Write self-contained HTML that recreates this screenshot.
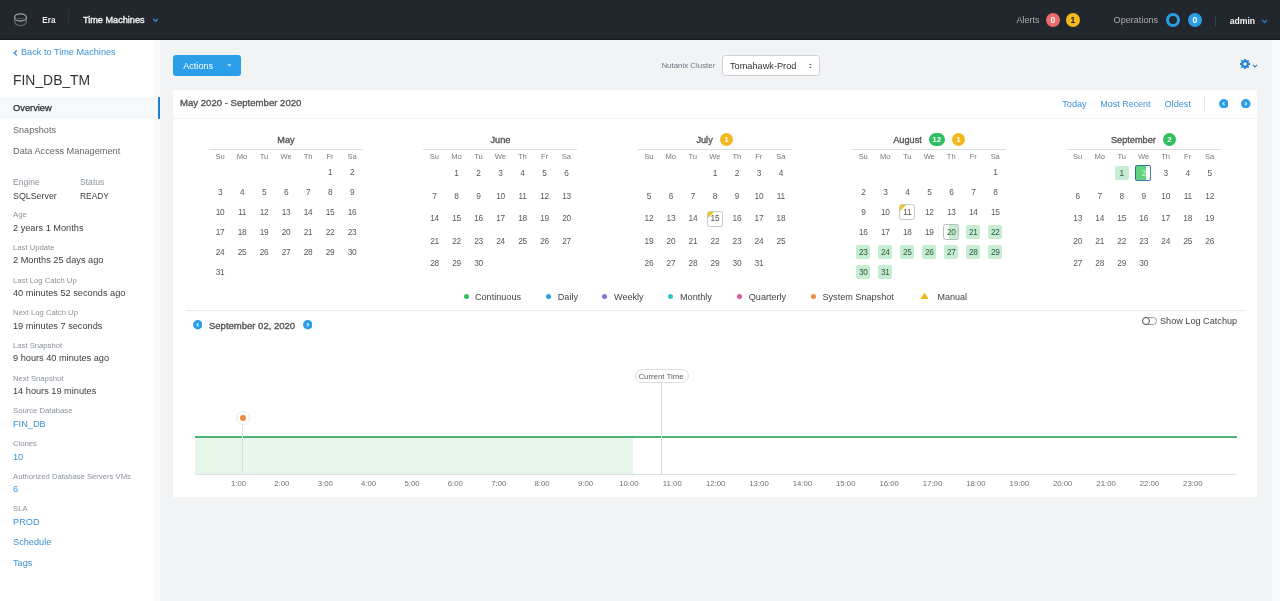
<!DOCTYPE html>
<html><head><meta charset="utf-8"><style>
*{margin:0;padding:0;box-sizing:content-box}
html,body{width:1280px;height:601px;overflow:hidden;background:#f2f3f5}
body{position:relative;font-family:"Liberation Sans",sans-serif}
#w{position:absolute;left:0;top:0;width:1280px;height:601px;will-change:transform}
.t{position:absolute;line-height:1;white-space:nowrap}
.r{position:absolute}

.badge{border-radius:7px;font-size:8px;font-weight:700;text-align:center;line-height:13.4px}
.circ{border-radius:50%;font-size:8.6px;font-weight:700;text-align:center;line-height:14px}
</style></head><body><div id="w">
<div class="r" style="left:0px;top:0px;width:1280px;height:601px;background:#f2f3f5"></div>
<div class="r" style="left:1271px;top:40px;width:9px;height:561px;background:#f8f9fa;border-left:1px solid #eef0f2"></div>
<div class="r" style="left:0px;top:40px;width:160px;height:561px;background:#fff"></div>
<div class="r" style="left:153px;top:40px;width:7px;height:561px;background:#f9fafa"></div>
<div class="r" style="left:0px;top:0px;width:1280px;height:39px;background:#22262d"></div>
<div class="r" style="left:0px;top:39px;width:1280px;height:1px;background:#16191d"></div>
<svg class="r" style="left:12px;top:10px" width="18" height="18" viewBox="12 10 18 18"><path d="M14.6 19.5 V21.3 A5.9 4.4 0 0 0 26.4 21.3 V19.5" fill="none" stroke="#62676f" stroke-width="1.3"/><ellipse cx="20.5" cy="17.4" rx="5.9" ry="3.6" fill="#22262d" stroke="#a0a5ad" stroke-width="1.3"/><path d="M16.8 19.2 A4.2 1.6 0 0 1 24.2 19.2" fill="none" stroke="#5a5f67" stroke-width="1"/></svg>
<div class="t" style="left:42.3px;top:16.56px;font-size:8.2px;color:#f0f0f0;font-weight:700;">Era</div>
<div class="r" style="left:68px;top:9px;width:1px;height:15px;background:#2e333a"></div>
<div class="t" style="left:83px;top:15.95px;font-size:9.15px;color:#ececec;font-weight:400;-webkit-text-stroke:0.4px #ececec;">Time Machines</div>
<svg class="r" style="left:151.8px;top:17.8px" width="7" height="5" viewBox="0 0 7 5"><path d="M1.2 1 L3.5 3.3 L5.8 1" fill="none" stroke="#2f8fd8" stroke-width="1.3"/></svg>
<div class="t" style="left:1016.4px;top:15.88px;font-size:9.0px;color:#a9adb3;font-weight:400;">Alerts</div>
<div class="r circ" style="left:1046px;top:13px;width:14px;height:14px;background:#ee6b6b;color:#fff">0</div>
<div class="r circ" style="left:1066px;top:13px;width:14px;height:14px;background:#f3b81c;color:#222">1</div>
<div class="t" style="left:1113.6px;top:16.00px;font-size:9.1px;color:#a9adb3;font-weight:400;">Operations</div>
<div class="r" style="left:1166px;top:12.5px;width:8px;height:8px;border:3.5px solid #2a9ee8;border-radius:50%"></div>
<div class="r circ" style="left:1188px;top:13px;width:14px;height:14px;background:#2a9ee8;color:#fff">0</div>
<div class="r" style="left:1215px;top:16px;width:1px;height:10px;background:#3a3f47"></div>
<div class="t" style="left:1229.8px;top:16.62px;font-size:8.6px;color:#f2f2f2;font-weight:700;">admin</div>
<svg class="r" style="left:1261px;top:19px" width="7" height="5" viewBox="0 0 7 5"><path d="M1 1 L3.5 3.5 L6 1" fill="none" stroke="#2a7cc0" stroke-width="1.4"/></svg>
<div class="r" style="left:0px;top:97px;width:158px;height:22px;background:#f6f9fb"></div>
<div class="r" style="left:158px;top:97px;width:2px;height:22px;background:#1f82d0"></div>
<svg class="r" style="left:13px;top:49.5px" width="5" height="6" viewBox="0 0 5 6"><path d="M3.8 0.6 L1.2 3 L3.8 5.4" fill="none" stroke="#3b8fcf" stroke-width="1.3"/></svg>
<div class="t" style="left:21px;top:48.24px;font-size:9.17px;color:#3b92d3;font-weight:400;">Back to Time Machines</div>
<div class="t" style="left:13px;top:73.53px;font-size:13.9px;color:#333;font-weight:400;">FIN_DB_TM</div>
<div class="t" style="left:13px;top:104.03px;font-size:9.3px;color:#2a2a2a;font-weight:400;-webkit-text-stroke:0.25px #2a2a2a;">Overview</div>
<div class="t" style="left:13px;top:125.80px;font-size:9.1px;color:#666;font-weight:400;">Snapshots</div>
<div class="t" style="left:13px;top:147.11px;font-size:9.2px;color:#666;font-weight:400;">Data Access Management</div>
<div class="t" style="left:13px;top:178.32px;font-size:8.6px;color:#8a929b;font-weight:400;">Engine</div>
<div class="t" style="left:80px;top:178.32px;font-size:8.6px;color:#8a929b;font-weight:400;">Status</div>
<div class="t" style="left:13px;top:191.71px;font-size:8.85px;color:#3c3c3c;font-weight:400;">SQLServer</div>
<div class="t" style="left:80px;top:192.09px;font-size:8.4px;color:#3c3c3c;font-weight:400;">READY</div>
<div class="t" style="left:13px;top:211.28px;font-size:7.7px;color:#8a929b;font-weight:400;">Age</div>
<div class="t" style="left:13px;top:223.81px;font-size:9.2px;color:#3c3c3c;font-weight:400;">2 years 1 Months</div>
<div class="t" style="left:13px;top:243.95px;font-size:7.7px;color:#8a929b;font-weight:400;">Last Update</div>
<div class="t" style="left:13px;top:256.48px;font-size:9.2px;color:#3c3c3c;font-weight:400;">2 Months 25 days ago</div>
<div class="t" style="left:13px;top:276.62px;font-size:7.7px;color:#8a929b;font-weight:400;">Last Log Catch Up</div>
<div class="t" style="left:13px;top:289.15px;font-size:9.2px;color:#3c3c3c;font-weight:400;">40 minutes 52 seconds ago</div>
<div class="t" style="left:13px;top:309.29px;font-size:7.7px;color:#8a929b;font-weight:400;">Next Log Catch Up</div>
<div class="t" style="left:13px;top:321.82px;font-size:9.2px;color:#3c3c3c;font-weight:400;">19 minutes 7 seconds</div>
<div class="t" style="left:13px;top:341.96px;font-size:7.7px;color:#8a929b;font-weight:400;">Last Snapshot</div>
<div class="t" style="left:13px;top:354.49px;font-size:9.2px;color:#3c3c3c;font-weight:400;">9 hours 40 minutes ago</div>
<div class="t" style="left:13px;top:374.63px;font-size:7.7px;color:#8a929b;font-weight:400;">Next Snapshot</div>
<div class="t" style="left:13px;top:387.16px;font-size:9.2px;color:#3c3c3c;font-weight:400;">14 hours 19 minutes</div>
<div class="t" style="left:13px;top:407.30px;font-size:7.7px;color:#8a929b;font-weight:400;">Source Database</div>
<div class="t" style="left:13px;top:419.83px;font-size:9.2px;color:#3b92d3;font-weight:400;">FIN_DB</div>
<div class="t" style="left:13px;top:439.97px;font-size:7.7px;color:#8a929b;font-weight:400;">Clones</div>
<div class="t" style="left:13px;top:452.50px;font-size:9.2px;color:#3b92d3;font-weight:400;">10</div>
<div class="t" style="left:13px;top:472.64px;font-size:7.7px;color:#8a929b;font-weight:400;">Authorized Database Servers VMs</div>
<div class="t" style="left:13px;top:485.17px;font-size:9.2px;color:#3b92d3;font-weight:400;">6</div>
<div class="t" style="left:13px;top:505.31px;font-size:7.7px;color:#8a929b;font-weight:400;">SLA</div>
<div class="t" style="left:13px;top:517.84px;font-size:9.2px;color:#3b92d3;font-weight:400;">PROD</div>
<div class="t" style="left:13px;top:538.41px;font-size:9.2px;color:#3b92d3;font-weight:400;">Schedule</div>
<div class="t" style="left:13px;top:559.21px;font-size:9.2px;color:#3b92d3;font-weight:400;">Tags</div>
<div class="r" style="left:173px;top:55px;width:68px;height:21px;background:#2a9ee8;border-radius:3px"></div>
<div class="t" style="left:183.2px;top:61.65px;font-size:9.15px;color:#fff;font-weight:400;">Actions</div>
<svg class="r" style="left:226.8px;top:64px" width="5" height="3" viewBox="0 0 5 3"><path d="M0.2 0.2 L4.4 0.2 L2.3 2.4Z" fill="#d2f2ff"/></svg>
<div class="t" style="left:661.4px;top:62.11px;font-size:7.9px;color:#6b7580;font-weight:400;">Nutanix Cluster</div>
<div class="r" style="left:722px;top:55px;width:96px;height:19px;background:#fff;border:1px solid #cfd3d7;border-radius:3px"></div>
<div class="t" style="left:730px;top:61.71px;font-size:9.2px;color:#333;font-weight:400;">Tomahawk-Prod</div>
<svg class="r" style="left:809px;top:62px" width="4" height="8" viewBox="0 0 4 8"><ellipse cx="1.3" cy="2.5" rx="1" ry="0.7" fill="#555"/><ellipse cx="1.3" cy="5.4" rx="1" ry="0.7" fill="#555"/></svg>
<svg class="r" style="left:1239.3px;top:57.8px" width="12" height="12" viewBox="-6 -6 12 12"><g fill="#2386d2"><circle r="3.5"/><path d="M-0.9 -5.1 L0.9 -5.1 L1.3 -2.8 L-1.3 -2.8Z" transform="rotate(0)"/><path d="M-0.9 -5.1 L0.9 -5.1 L1.3 -2.8 L-1.3 -2.8Z" transform="rotate(45)"/><path d="M-0.9 -5.1 L0.9 -5.1 L1.3 -2.8 L-1.3 -2.8Z" transform="rotate(90)"/><path d="M-0.9 -5.1 L0.9 -5.1 L1.3 -2.8 L-1.3 -2.8Z" transform="rotate(135)"/><path d="M-0.9 -5.1 L0.9 -5.1 L1.3 -2.8 L-1.3 -2.8Z" transform="rotate(180)"/><path d="M-0.9 -5.1 L0.9 -5.1 L1.3 -2.8 L-1.3 -2.8Z" transform="rotate(225)"/><path d="M-0.9 -5.1 L0.9 -5.1 L1.3 -2.8 L-1.3 -2.8Z" transform="rotate(270)"/><path d="M-0.9 -5.1 L0.9 -5.1 L1.3 -2.8 L-1.3 -2.8Z" transform="rotate(315)"/></g><circle r="1.7" fill="#f2f3f5"/></svg>
<svg class="r" style="left:1252px;top:64px" width="6" height="4" viewBox="0 0 6 4"><path d="M0.9 0.9 L3 2.9 L5.1 0.9" fill="none" stroke="#2386d2" stroke-width="1.2"/></svg>
<div class="r" style="left:173px;top:90px;width:1084px;height:407px;background:#fff"></div>
<div class="t" style="left:180px;top:98.49px;font-size:9.58px;color:#555;font-weight:400;-webkit-text-stroke:0.35px #555;">May 2020 - September 2020</div>
<div class="t" style="left:1062.2px;top:100.01px;font-size:9.2px;color:#3b92d3;font-weight:400;">Today</div>
<div class="t" style="left:1100.3px;top:100.22px;font-size:8.96px;color:#3b92d3;font-weight:400;">Most Recent</div>
<div class="t" style="left:1164.5px;top:100.04px;font-size:9.17px;color:#3b92d3;font-weight:400;">Oldest</div>
<div class="r" style="left:1204px;top:96px;width:1px;height:15px;background:#e3e5e8"></div>
<svg class="r" style="left:1218.65px;top:98.75px" width="9.5" height="9.5" viewBox="0 0 9.5 9.5"><circle cx="4.75" cy="4.75" r="4.75" fill="#2a9ee8"/><path d="M5.5 3.1 L4.0 4.8 L5.5 6.3" fill="none" stroke="#c4ecff" stroke-width="1.3"/></svg>
<svg class="r" style="left:1241.15px;top:98.75px" width="9.5" height="9.5" viewBox="0 0 9.5 9.5"><circle cx="4.75" cy="4.75" r="4.75" fill="#2a9ee8"/><path d="M4.0 3.1 L5.5 4.8 L4.0 6.3" fill="none" stroke="#c4ecff" stroke-width="1.3"/></svg>
<div class="r" style="left:173px;top:118px;width:1084px;height:1px;background:#f1f2f4"></div>
<div class="t" style="left:277.3103125px;top:135.51px;font-size:9.2px;color:#555;font-weight:400;-webkit-text-stroke:0.35px #555;">May</div>
<div class="r" style="left:209.0px;top:149px;width:154px;height:1px;background:#dcdddf"></div>
<div class="t" style="left:209.00px;width:22px;text-align:center;top:152.87px;font-size:7.6px;color:#777;font-weight:400;letter-spacing:-0.1px;">Su</div>
<div class="t" style="left:231.00px;width:22px;text-align:center;top:152.87px;font-size:7.6px;color:#777;font-weight:400;letter-spacing:-0.1px;">Mo</div>
<div class="t" style="left:253.00px;width:22px;text-align:center;top:152.87px;font-size:7.6px;color:#777;font-weight:400;letter-spacing:-0.1px;">Tu</div>
<div class="t" style="left:275.00px;width:22px;text-align:center;top:152.87px;font-size:7.6px;color:#777;font-weight:400;letter-spacing:-0.1px;">We</div>
<div class="t" style="left:297.00px;width:22px;text-align:center;top:152.87px;font-size:7.6px;color:#777;font-weight:400;letter-spacing:-0.1px;">Th</div>
<div class="t" style="left:319.00px;width:22px;text-align:center;top:152.87px;font-size:7.6px;color:#777;font-weight:400;letter-spacing:-0.1px;">Fr</div>
<div class="t" style="left:341.00px;width:22px;text-align:center;top:152.87px;font-size:7.6px;color:#777;font-weight:400;letter-spacing:-0.1px;">Sa</div>
<div class="t" style="left:319.12px;width:22px;text-align:center;top:167.67px;font-size:8.3px;color:#585858;font-weight:400;letter-spacing:-0.25px;">1</div>
<div class="t" style="left:341.12px;width:22px;text-align:center;top:167.67px;font-size:8.3px;color:#585858;font-weight:400;letter-spacing:-0.25px;">2</div>
<div class="t" style="left:209.12px;width:22px;text-align:center;top:187.67px;font-size:8.3px;color:#585858;font-weight:400;letter-spacing:-0.25px;">3</div>
<div class="t" style="left:231.12px;width:22px;text-align:center;top:187.67px;font-size:8.3px;color:#585858;font-weight:400;letter-spacing:-0.25px;">4</div>
<div class="t" style="left:253.12px;width:22px;text-align:center;top:187.67px;font-size:8.3px;color:#585858;font-weight:400;letter-spacing:-0.25px;">5</div>
<div class="t" style="left:275.12px;width:22px;text-align:center;top:187.67px;font-size:8.3px;color:#585858;font-weight:400;letter-spacing:-0.25px;">6</div>
<div class="t" style="left:297.12px;width:22px;text-align:center;top:187.67px;font-size:8.3px;color:#585858;font-weight:400;letter-spacing:-0.25px;">7</div>
<div class="t" style="left:319.12px;width:22px;text-align:center;top:187.67px;font-size:8.3px;color:#585858;font-weight:400;letter-spacing:-0.25px;">8</div>
<div class="t" style="left:341.12px;width:22px;text-align:center;top:187.67px;font-size:8.3px;color:#585858;font-weight:400;letter-spacing:-0.25px;">9</div>
<div class="t" style="left:209.12px;width:22px;text-align:center;top:207.67px;font-size:8.3px;color:#585858;font-weight:400;letter-spacing:-0.25px;">10</div>
<div class="t" style="left:231.12px;width:22px;text-align:center;top:207.67px;font-size:8.3px;color:#585858;font-weight:400;letter-spacing:-0.25px;">11</div>
<div class="t" style="left:253.12px;width:22px;text-align:center;top:207.67px;font-size:8.3px;color:#585858;font-weight:400;letter-spacing:-0.25px;">12</div>
<div class="t" style="left:275.12px;width:22px;text-align:center;top:207.67px;font-size:8.3px;color:#585858;font-weight:400;letter-spacing:-0.25px;">13</div>
<div class="t" style="left:297.12px;width:22px;text-align:center;top:207.67px;font-size:8.3px;color:#585858;font-weight:400;letter-spacing:-0.25px;">14</div>
<div class="t" style="left:319.12px;width:22px;text-align:center;top:207.67px;font-size:8.3px;color:#585858;font-weight:400;letter-spacing:-0.25px;">15</div>
<div class="t" style="left:341.12px;width:22px;text-align:center;top:207.67px;font-size:8.3px;color:#585858;font-weight:400;letter-spacing:-0.25px;">16</div>
<div class="t" style="left:209.12px;width:22px;text-align:center;top:227.67px;font-size:8.3px;color:#585858;font-weight:400;letter-spacing:-0.25px;">17</div>
<div class="t" style="left:231.12px;width:22px;text-align:center;top:227.67px;font-size:8.3px;color:#585858;font-weight:400;letter-spacing:-0.25px;">18</div>
<div class="t" style="left:253.12px;width:22px;text-align:center;top:227.67px;font-size:8.3px;color:#585858;font-weight:400;letter-spacing:-0.25px;">19</div>
<div class="t" style="left:275.12px;width:22px;text-align:center;top:227.67px;font-size:8.3px;color:#585858;font-weight:400;letter-spacing:-0.25px;">20</div>
<div class="t" style="left:297.12px;width:22px;text-align:center;top:227.67px;font-size:8.3px;color:#585858;font-weight:400;letter-spacing:-0.25px;">21</div>
<div class="t" style="left:319.12px;width:22px;text-align:center;top:227.67px;font-size:8.3px;color:#585858;font-weight:400;letter-spacing:-0.25px;">22</div>
<div class="t" style="left:341.12px;width:22px;text-align:center;top:227.67px;font-size:8.3px;color:#585858;font-weight:400;letter-spacing:-0.25px;">23</div>
<div class="t" style="left:209.12px;width:22px;text-align:center;top:247.67px;font-size:8.3px;color:#585858;font-weight:400;letter-spacing:-0.25px;">24</div>
<div class="t" style="left:231.12px;width:22px;text-align:center;top:247.67px;font-size:8.3px;color:#585858;font-weight:400;letter-spacing:-0.25px;">25</div>
<div class="t" style="left:253.12px;width:22px;text-align:center;top:247.67px;font-size:8.3px;color:#585858;font-weight:400;letter-spacing:-0.25px;">26</div>
<div class="t" style="left:275.12px;width:22px;text-align:center;top:247.67px;font-size:8.3px;color:#585858;font-weight:400;letter-spacing:-0.25px;">27</div>
<div class="t" style="left:297.12px;width:22px;text-align:center;top:247.67px;font-size:8.3px;color:#585858;font-weight:400;letter-spacing:-0.25px;">28</div>
<div class="t" style="left:319.12px;width:22px;text-align:center;top:247.67px;font-size:8.3px;color:#585858;font-weight:400;letter-spacing:-0.25px;">29</div>
<div class="t" style="left:341.12px;width:22px;text-align:center;top:247.67px;font-size:8.3px;color:#585858;font-weight:400;letter-spacing:-0.25px;">30</div>
<div class="t" style="left:209.12px;width:22px;text-align:center;top:267.67px;font-size:8.3px;color:#585858;font-weight:400;letter-spacing:-0.25px;">31</div>
<div class="t" style="left:490.42590624999997px;top:135.51px;font-size:9.2px;color:#555;font-weight:400;-webkit-text-stroke:0.35px #555;">June</div>
<div class="r" style="left:423.4px;top:149px;width:154px;height:1px;background:#dcdddf"></div>
<div class="t" style="left:423.40px;width:22px;text-align:center;top:152.87px;font-size:7.6px;color:#777;font-weight:400;letter-spacing:-0.1px;">Su</div>
<div class="t" style="left:445.40px;width:22px;text-align:center;top:152.87px;font-size:7.6px;color:#777;font-weight:400;letter-spacing:-0.1px;">Mo</div>
<div class="t" style="left:467.40px;width:22px;text-align:center;top:152.87px;font-size:7.6px;color:#777;font-weight:400;letter-spacing:-0.1px;">Tu</div>
<div class="t" style="left:489.40px;width:22px;text-align:center;top:152.87px;font-size:7.6px;color:#777;font-weight:400;letter-spacing:-0.1px;">We</div>
<div class="t" style="left:511.40px;width:22px;text-align:center;top:152.87px;font-size:7.6px;color:#777;font-weight:400;letter-spacing:-0.1px;">Th</div>
<div class="t" style="left:533.40px;width:22px;text-align:center;top:152.87px;font-size:7.6px;color:#777;font-weight:400;letter-spacing:-0.1px;">Fr</div>
<div class="t" style="left:555.40px;width:22px;text-align:center;top:152.87px;font-size:7.6px;color:#777;font-weight:400;letter-spacing:-0.1px;">Sa</div>
<div class="t" style="left:445.52px;width:22px;text-align:center;top:168.97px;font-size:8.3px;color:#585858;font-weight:400;letter-spacing:-0.25px;">1</div>
<div class="t" style="left:467.52px;width:22px;text-align:center;top:168.97px;font-size:8.3px;color:#585858;font-weight:400;letter-spacing:-0.25px;">2</div>
<div class="t" style="left:489.52px;width:22px;text-align:center;top:168.97px;font-size:8.3px;color:#585858;font-weight:400;letter-spacing:-0.25px;">3</div>
<div class="t" style="left:511.52px;width:22px;text-align:center;top:168.97px;font-size:8.3px;color:#585858;font-weight:400;letter-spacing:-0.25px;">4</div>
<div class="t" style="left:533.52px;width:22px;text-align:center;top:168.97px;font-size:8.3px;color:#585858;font-weight:400;letter-spacing:-0.25px;">5</div>
<div class="t" style="left:555.52px;width:22px;text-align:center;top:168.97px;font-size:8.3px;color:#585858;font-weight:400;letter-spacing:-0.25px;">6</div>
<div class="t" style="left:423.52px;width:22px;text-align:center;top:191.60px;font-size:8.3px;color:#585858;font-weight:400;letter-spacing:-0.25px;">7</div>
<div class="t" style="left:445.52px;width:22px;text-align:center;top:191.60px;font-size:8.3px;color:#585858;font-weight:400;letter-spacing:-0.25px;">8</div>
<div class="t" style="left:467.52px;width:22px;text-align:center;top:191.60px;font-size:8.3px;color:#585858;font-weight:400;letter-spacing:-0.25px;">9</div>
<div class="t" style="left:489.52px;width:22px;text-align:center;top:191.60px;font-size:8.3px;color:#585858;font-weight:400;letter-spacing:-0.25px;">10</div>
<div class="t" style="left:511.52px;width:22px;text-align:center;top:191.60px;font-size:8.3px;color:#585858;font-weight:400;letter-spacing:-0.25px;">11</div>
<div class="t" style="left:533.52px;width:22px;text-align:center;top:191.60px;font-size:8.3px;color:#585858;font-weight:400;letter-spacing:-0.25px;">12</div>
<div class="t" style="left:555.52px;width:22px;text-align:center;top:191.60px;font-size:8.3px;color:#585858;font-weight:400;letter-spacing:-0.25px;">13</div>
<div class="t" style="left:423.52px;width:22px;text-align:center;top:214.23px;font-size:8.3px;color:#585858;font-weight:400;letter-spacing:-0.25px;">14</div>
<div class="t" style="left:445.52px;width:22px;text-align:center;top:214.23px;font-size:8.3px;color:#585858;font-weight:400;letter-spacing:-0.25px;">15</div>
<div class="t" style="left:467.52px;width:22px;text-align:center;top:214.23px;font-size:8.3px;color:#585858;font-weight:400;letter-spacing:-0.25px;">16</div>
<div class="t" style="left:489.52px;width:22px;text-align:center;top:214.23px;font-size:8.3px;color:#585858;font-weight:400;letter-spacing:-0.25px;">17</div>
<div class="t" style="left:511.52px;width:22px;text-align:center;top:214.23px;font-size:8.3px;color:#585858;font-weight:400;letter-spacing:-0.25px;">18</div>
<div class="t" style="left:533.52px;width:22px;text-align:center;top:214.23px;font-size:8.3px;color:#585858;font-weight:400;letter-spacing:-0.25px;">19</div>
<div class="t" style="left:555.52px;width:22px;text-align:center;top:214.23px;font-size:8.3px;color:#585858;font-weight:400;letter-spacing:-0.25px;">20</div>
<div class="t" style="left:423.52px;width:22px;text-align:center;top:236.86px;font-size:8.3px;color:#585858;font-weight:400;letter-spacing:-0.25px;">21</div>
<div class="t" style="left:445.52px;width:22px;text-align:center;top:236.86px;font-size:8.3px;color:#585858;font-weight:400;letter-spacing:-0.25px;">22</div>
<div class="t" style="left:467.52px;width:22px;text-align:center;top:236.86px;font-size:8.3px;color:#585858;font-weight:400;letter-spacing:-0.25px;">23</div>
<div class="t" style="left:489.52px;width:22px;text-align:center;top:236.86px;font-size:8.3px;color:#585858;font-weight:400;letter-spacing:-0.25px;">24</div>
<div class="t" style="left:511.52px;width:22px;text-align:center;top:236.86px;font-size:8.3px;color:#585858;font-weight:400;letter-spacing:-0.25px;">25</div>
<div class="t" style="left:533.52px;width:22px;text-align:center;top:236.86px;font-size:8.3px;color:#585858;font-weight:400;letter-spacing:-0.25px;">26</div>
<div class="t" style="left:555.52px;width:22px;text-align:center;top:236.86px;font-size:8.3px;color:#585858;font-weight:400;letter-spacing:-0.25px;">27</div>
<div class="t" style="left:423.52px;width:22px;text-align:center;top:259.49px;font-size:8.3px;color:#585858;font-weight:400;letter-spacing:-0.25px;">28</div>
<div class="t" style="left:445.52px;width:22px;text-align:center;top:259.49px;font-size:8.3px;color:#585858;font-weight:400;letter-spacing:-0.25px;">29</div>
<div class="t" style="left:467.52px;width:22px;text-align:center;top:259.49px;font-size:8.3px;color:#585858;font-weight:400;letter-spacing:-0.25px;">30</div>
<div class="t" style="left:696.4199062499999px;top:135.51px;font-size:9.2px;color:#555;font-weight:400;-webkit-text-stroke:0.35px #555;">July</div>
<div class="r badge" style="left:719.78px;top:133px;width:13.4px;height:13.4px;background:#f3b81c;color:#fff">1</div>
<div class="r" style="left:637.8px;top:149px;width:154px;height:1px;background:#dcdddf"></div>
<div class="t" style="left:637.80px;width:22px;text-align:center;top:152.87px;font-size:7.6px;color:#777;font-weight:400;letter-spacing:-0.1px;">Su</div>
<div class="t" style="left:659.80px;width:22px;text-align:center;top:152.87px;font-size:7.6px;color:#777;font-weight:400;letter-spacing:-0.1px;">Mo</div>
<div class="t" style="left:681.80px;width:22px;text-align:center;top:152.87px;font-size:7.6px;color:#777;font-weight:400;letter-spacing:-0.1px;">Tu</div>
<div class="t" style="left:703.80px;width:22px;text-align:center;top:152.87px;font-size:7.6px;color:#777;font-weight:400;letter-spacing:-0.1px;">We</div>
<div class="t" style="left:725.80px;width:22px;text-align:center;top:152.87px;font-size:7.6px;color:#777;font-weight:400;letter-spacing:-0.1px;">Th</div>
<div class="t" style="left:747.80px;width:22px;text-align:center;top:152.87px;font-size:7.6px;color:#777;font-weight:400;letter-spacing:-0.1px;">Fr</div>
<div class="t" style="left:769.80px;width:22px;text-align:center;top:152.87px;font-size:7.6px;color:#777;font-weight:400;letter-spacing:-0.1px;">Sa</div>
<div class="t" style="left:703.92px;width:22px;text-align:center;top:168.97px;font-size:8.3px;color:#585858;font-weight:400;letter-spacing:-0.25px;">1</div>
<div class="t" style="left:725.92px;width:22px;text-align:center;top:168.97px;font-size:8.3px;color:#585858;font-weight:400;letter-spacing:-0.25px;">2</div>
<div class="t" style="left:747.92px;width:22px;text-align:center;top:168.97px;font-size:8.3px;color:#585858;font-weight:400;letter-spacing:-0.25px;">3</div>
<div class="t" style="left:769.92px;width:22px;text-align:center;top:168.97px;font-size:8.3px;color:#585858;font-weight:400;letter-spacing:-0.25px;">4</div>
<div class="t" style="left:637.92px;width:22px;text-align:center;top:191.60px;font-size:8.3px;color:#585858;font-weight:400;letter-spacing:-0.25px;">5</div>
<div class="t" style="left:659.92px;width:22px;text-align:center;top:191.60px;font-size:8.3px;color:#585858;font-weight:400;letter-spacing:-0.25px;">6</div>
<div class="t" style="left:681.92px;width:22px;text-align:center;top:191.60px;font-size:8.3px;color:#585858;font-weight:400;letter-spacing:-0.25px;">7</div>
<div class="t" style="left:703.92px;width:22px;text-align:center;top:191.60px;font-size:8.3px;color:#585858;font-weight:400;letter-spacing:-0.25px;">8</div>
<div class="t" style="left:725.92px;width:22px;text-align:center;top:191.60px;font-size:8.3px;color:#585858;font-weight:400;letter-spacing:-0.25px;">9</div>
<div class="t" style="left:747.92px;width:22px;text-align:center;top:191.60px;font-size:8.3px;color:#585858;font-weight:400;letter-spacing:-0.25px;">10</div>
<div class="t" style="left:769.92px;width:22px;text-align:center;top:191.60px;font-size:8.3px;color:#585858;font-weight:400;letter-spacing:-0.25px;">11</div>
<div class="t" style="left:637.92px;width:22px;text-align:center;top:214.23px;font-size:8.3px;color:#585858;font-weight:400;letter-spacing:-0.25px;">12</div>
<div class="t" style="left:659.92px;width:22px;text-align:center;top:214.23px;font-size:8.3px;color:#585858;font-weight:400;letter-spacing:-0.25px;">13</div>
<div class="t" style="left:681.92px;width:22px;text-align:center;top:214.23px;font-size:8.3px;color:#585858;font-weight:400;letter-spacing:-0.25px;">14</div>
<div class="r" style="left:706.80px;top:210.56px;width:14px;height:14px;border:1px solid #c4c8cc;border-radius:2.5px;background:#fff;overflow:hidden"><div style="position:absolute;left:0;top:0;width:0;height:0;border-top:6px solid #f0c419;border-right:6px solid transparent"></div></div>
<div class="t" style="left:703.92px;width:22px;text-align:center;top:214.23px;font-size:8.3px;color:#585858;font-weight:400;letter-spacing:-0.25px;">15</div>
<div class="t" style="left:725.92px;width:22px;text-align:center;top:214.23px;font-size:8.3px;color:#585858;font-weight:400;letter-spacing:-0.25px;">16</div>
<div class="t" style="left:747.92px;width:22px;text-align:center;top:214.23px;font-size:8.3px;color:#585858;font-weight:400;letter-spacing:-0.25px;">17</div>
<div class="t" style="left:769.92px;width:22px;text-align:center;top:214.23px;font-size:8.3px;color:#585858;font-weight:400;letter-spacing:-0.25px;">18</div>
<div class="t" style="left:637.92px;width:22px;text-align:center;top:236.86px;font-size:8.3px;color:#585858;font-weight:400;letter-spacing:-0.25px;">19</div>
<div class="t" style="left:659.92px;width:22px;text-align:center;top:236.86px;font-size:8.3px;color:#585858;font-weight:400;letter-spacing:-0.25px;">20</div>
<div class="t" style="left:681.92px;width:22px;text-align:center;top:236.86px;font-size:8.3px;color:#585858;font-weight:400;letter-spacing:-0.25px;">21</div>
<div class="t" style="left:703.92px;width:22px;text-align:center;top:236.86px;font-size:8.3px;color:#585858;font-weight:400;letter-spacing:-0.25px;">22</div>
<div class="t" style="left:725.92px;width:22px;text-align:center;top:236.86px;font-size:8.3px;color:#585858;font-weight:400;letter-spacing:-0.25px;">23</div>
<div class="t" style="left:747.92px;width:22px;text-align:center;top:236.86px;font-size:8.3px;color:#585858;font-weight:400;letter-spacing:-0.25px;">24</div>
<div class="t" style="left:769.92px;width:22px;text-align:center;top:236.86px;font-size:8.3px;color:#585858;font-weight:400;letter-spacing:-0.25px;">25</div>
<div class="t" style="left:637.92px;width:22px;text-align:center;top:259.49px;font-size:8.3px;color:#585858;font-weight:400;letter-spacing:-0.25px;">26</div>
<div class="t" style="left:659.92px;width:22px;text-align:center;top:259.49px;font-size:8.3px;color:#585858;font-weight:400;letter-spacing:-0.25px;">27</div>
<div class="t" style="left:681.92px;width:22px;text-align:center;top:259.49px;font-size:8.3px;color:#585858;font-weight:400;letter-spacing:-0.25px;">28</div>
<div class="t" style="left:703.92px;width:22px;text-align:center;top:259.49px;font-size:8.3px;color:#585858;font-weight:400;letter-spacing:-0.25px;">29</div>
<div class="t" style="left:725.92px;width:22px;text-align:center;top:259.49px;font-size:8.3px;color:#585858;font-weight:400;letter-spacing:-0.25px;">30</div>
<div class="t" style="left:747.92px;width:22px;text-align:center;top:259.49px;font-size:8.3px;color:#585858;font-weight:400;letter-spacing:-0.25px;">31</div>
<div class="t" style="left:893.179625px;top:135.51px;font-size:9.2px;color:#555;font-weight:400;-webkit-text-stroke:0.35px #555;">August</div>
<div class="r badge" style="left:928.82px;top:133px;width:16px;height:13.4px;background:#2fbf5f;color:#fff">12</div>
<div class="r badge" style="left:951.82px;top:133px;width:13.4px;height:13.4px;background:#f3b81c;color:#fff">1</div>
<div class="r" style="left:852.2px;top:149px;width:154px;height:1px;background:#dcdddf"></div>
<div class="t" style="left:852.20px;width:22px;text-align:center;top:152.87px;font-size:7.6px;color:#777;font-weight:400;letter-spacing:-0.1px;">Su</div>
<div class="t" style="left:874.20px;width:22px;text-align:center;top:152.87px;font-size:7.6px;color:#777;font-weight:400;letter-spacing:-0.1px;">Mo</div>
<div class="t" style="left:896.20px;width:22px;text-align:center;top:152.87px;font-size:7.6px;color:#777;font-weight:400;letter-spacing:-0.1px;">Tu</div>
<div class="t" style="left:918.20px;width:22px;text-align:center;top:152.87px;font-size:7.6px;color:#777;font-weight:400;letter-spacing:-0.1px;">We</div>
<div class="t" style="left:940.20px;width:22px;text-align:center;top:152.87px;font-size:7.6px;color:#777;font-weight:400;letter-spacing:-0.1px;">Th</div>
<div class="t" style="left:962.20px;width:22px;text-align:center;top:152.87px;font-size:7.6px;color:#777;font-weight:400;letter-spacing:-0.1px;">Fr</div>
<div class="t" style="left:984.20px;width:22px;text-align:center;top:152.87px;font-size:7.6px;color:#777;font-weight:400;letter-spacing:-0.1px;">Sa</div>
<div class="t" style="left:984.32px;width:22px;text-align:center;top:167.67px;font-size:8.3px;color:#585858;font-weight:400;letter-spacing:-0.25px;">1</div>
<div class="t" style="left:852.32px;width:22px;text-align:center;top:187.67px;font-size:8.3px;color:#585858;font-weight:400;letter-spacing:-0.25px;">2</div>
<div class="t" style="left:874.32px;width:22px;text-align:center;top:187.67px;font-size:8.3px;color:#585858;font-weight:400;letter-spacing:-0.25px;">3</div>
<div class="t" style="left:896.32px;width:22px;text-align:center;top:187.67px;font-size:8.3px;color:#585858;font-weight:400;letter-spacing:-0.25px;">4</div>
<div class="t" style="left:918.32px;width:22px;text-align:center;top:187.67px;font-size:8.3px;color:#585858;font-weight:400;letter-spacing:-0.25px;">5</div>
<div class="t" style="left:940.32px;width:22px;text-align:center;top:187.67px;font-size:8.3px;color:#585858;font-weight:400;letter-spacing:-0.25px;">6</div>
<div class="t" style="left:962.32px;width:22px;text-align:center;top:187.67px;font-size:8.3px;color:#585858;font-weight:400;letter-spacing:-0.25px;">7</div>
<div class="t" style="left:984.32px;width:22px;text-align:center;top:187.67px;font-size:8.3px;color:#585858;font-weight:400;letter-spacing:-0.25px;">8</div>
<div class="t" style="left:852.32px;width:22px;text-align:center;top:207.67px;font-size:8.3px;color:#585858;font-weight:400;letter-spacing:-0.25px;">9</div>
<div class="t" style="left:874.32px;width:22px;text-align:center;top:207.67px;font-size:8.3px;color:#585858;font-weight:400;letter-spacing:-0.25px;">10</div>
<div class="r" style="left:899.20px;top:204.00px;width:14px;height:14px;border:1px solid #c4c8cc;border-radius:2.5px;background:#fff;overflow:hidden"><div style="position:absolute;left:0;top:0;width:0;height:0;border-top:6px solid #f0c419;border-right:6px solid transparent"></div></div>
<div class="t" style="left:896.32px;width:22px;text-align:center;top:207.67px;font-size:8.3px;color:#585858;font-weight:400;letter-spacing:-0.25px;">11</div>
<div class="t" style="left:918.32px;width:22px;text-align:center;top:207.67px;font-size:8.3px;color:#585858;font-weight:400;letter-spacing:-0.25px;">12</div>
<div class="t" style="left:940.32px;width:22px;text-align:center;top:207.67px;font-size:8.3px;color:#585858;font-weight:400;letter-spacing:-0.25px;">13</div>
<div class="t" style="left:962.32px;width:22px;text-align:center;top:207.67px;font-size:8.3px;color:#585858;font-weight:400;letter-spacing:-0.25px;">14</div>
<div class="t" style="left:984.32px;width:22px;text-align:center;top:207.67px;font-size:8.3px;color:#585858;font-weight:400;letter-spacing:-0.25px;">15</div>
<div class="t" style="left:852.32px;width:22px;text-align:center;top:227.67px;font-size:8.3px;color:#585858;font-weight:400;letter-spacing:-0.25px;">16</div>
<div class="t" style="left:874.32px;width:22px;text-align:center;top:227.67px;font-size:8.3px;color:#585858;font-weight:400;letter-spacing:-0.25px;">17</div>
<div class="t" style="left:896.32px;width:22px;text-align:center;top:227.67px;font-size:8.3px;color:#585858;font-weight:400;letter-spacing:-0.25px;">18</div>
<div class="t" style="left:918.32px;width:22px;text-align:center;top:227.67px;font-size:8.3px;color:#585858;font-weight:400;letter-spacing:-0.25px;">19</div>
<div class="r" style="left:943.20px;top:224.00px;width:14px;height:14px;border:1px solid #b9bdc2;border-radius:2.5px;background:linear-gradient(to right,#fff 0 4.5px,#c6edd2 4.5px)"></div>
<div class="t" style="left:940.32px;width:22px;text-align:center;top:227.67px;font-size:8.3px;color:#2f5a3e;font-weight:400;letter-spacing:-0.25px;">20</div>
<div class="r" style="left:966.20px;top:225.00px;width:14px;height:14px;background:#c6edd2;border-radius:2px"></div>
<div class="t" style="left:962.32px;width:22px;text-align:center;top:227.67px;font-size:8.3px;color:#2f5a3e;font-weight:400;letter-spacing:-0.25px;">21</div>
<div class="r" style="left:988.20px;top:225.00px;width:14px;height:14px;background:#c6edd2;border-radius:2px"></div>
<div class="t" style="left:984.32px;width:22px;text-align:center;top:227.67px;font-size:8.3px;color:#2f5a3e;font-weight:400;letter-spacing:-0.25px;">22</div>
<div class="r" style="left:856.20px;top:245.00px;width:14px;height:14px;background:#c6edd2;border-radius:2px"></div>
<div class="t" style="left:852.32px;width:22px;text-align:center;top:247.67px;font-size:8.3px;color:#2f5a3e;font-weight:400;letter-spacing:-0.25px;">23</div>
<div class="r" style="left:878.20px;top:245.00px;width:14px;height:14px;background:#c6edd2;border-radius:2px"></div>
<div class="t" style="left:874.32px;width:22px;text-align:center;top:247.67px;font-size:8.3px;color:#2f5a3e;font-weight:400;letter-spacing:-0.25px;">24</div>
<div class="r" style="left:900.20px;top:245.00px;width:14px;height:14px;background:#c6edd2;border-radius:2px"></div>
<div class="t" style="left:896.32px;width:22px;text-align:center;top:247.67px;font-size:8.3px;color:#2f5a3e;font-weight:400;letter-spacing:-0.25px;">25</div>
<div class="r" style="left:922.20px;top:245.00px;width:14px;height:14px;background:#c6edd2;border-radius:2px"></div>
<div class="t" style="left:918.32px;width:22px;text-align:center;top:247.67px;font-size:8.3px;color:#2f5a3e;font-weight:400;letter-spacing:-0.25px;">26</div>
<div class="r" style="left:944.20px;top:245.00px;width:14px;height:14px;background:#c6edd2;border-radius:2px"></div>
<div class="t" style="left:940.32px;width:22px;text-align:center;top:247.67px;font-size:8.3px;color:#2f5a3e;font-weight:400;letter-spacing:-0.25px;">27</div>
<div class="r" style="left:966.20px;top:245.00px;width:14px;height:14px;background:#c6edd2;border-radius:2px"></div>
<div class="t" style="left:962.32px;width:22px;text-align:center;top:247.67px;font-size:8.3px;color:#2f5a3e;font-weight:400;letter-spacing:-0.25px;">28</div>
<div class="r" style="left:988.20px;top:245.00px;width:14px;height:14px;background:#c6edd2;border-radius:2px"></div>
<div class="t" style="left:984.32px;width:22px;text-align:center;top:247.67px;font-size:8.3px;color:#2f5a3e;font-weight:400;letter-spacing:-0.25px;">29</div>
<div class="r" style="left:856.20px;top:265.00px;width:14px;height:14px;background:#c6edd2;border-radius:2px"></div>
<div class="t" style="left:852.32px;width:22px;text-align:center;top:267.67px;font-size:8.3px;color:#2f5a3e;font-weight:400;letter-spacing:-0.25px;">30</div>
<div class="r" style="left:878.20px;top:265.00px;width:14px;height:14px;background:#c6edd2;border-radius:2px"></div>
<div class="t" style="left:874.32px;width:22px;text-align:center;top:267.67px;font-size:8.3px;color:#2f5a3e;font-weight:400;letter-spacing:-0.25px;">31</div>
<div class="t" style="left:1110.90025px;top:135.51px;font-size:9.2px;color:#555;font-weight:400;-webkit-text-stroke:0.35px #555;">September</div>
<div class="r badge" style="left:1162.90px;top:133px;width:13.4px;height:13.4px;background:#2fbf5f;color:#fff">2</div>
<div class="r" style="left:1066.6px;top:149px;width:154px;height:1px;background:#dcdddf"></div>
<div class="t" style="left:1066.60px;width:22px;text-align:center;top:152.87px;font-size:7.6px;color:#777;font-weight:400;letter-spacing:-0.1px;">Su</div>
<div class="t" style="left:1088.60px;width:22px;text-align:center;top:152.87px;font-size:7.6px;color:#777;font-weight:400;letter-spacing:-0.1px;">Mo</div>
<div class="t" style="left:1110.60px;width:22px;text-align:center;top:152.87px;font-size:7.6px;color:#777;font-weight:400;letter-spacing:-0.1px;">Tu</div>
<div class="t" style="left:1132.60px;width:22px;text-align:center;top:152.87px;font-size:7.6px;color:#777;font-weight:400;letter-spacing:-0.1px;">We</div>
<div class="t" style="left:1154.60px;width:22px;text-align:center;top:152.87px;font-size:7.6px;color:#777;font-weight:400;letter-spacing:-0.1px;">Th</div>
<div class="t" style="left:1176.60px;width:22px;text-align:center;top:152.87px;font-size:7.6px;color:#777;font-weight:400;letter-spacing:-0.1px;">Fr</div>
<div class="t" style="left:1198.60px;width:22px;text-align:center;top:152.87px;font-size:7.6px;color:#777;font-weight:400;letter-spacing:-0.1px;">Sa</div>
<div class="r" style="left:1114.60px;top:166.30px;width:14px;height:14px;background:#c6edd2;border-radius:2px"></div>
<div class="t" style="left:1110.72px;width:22px;text-align:center;top:168.97px;font-size:8.3px;color:#2f5a3e;font-weight:400;letter-spacing:-0.25px;">1</div>
<div class="r" style="left:1135.40px;top:165.40px;width:13.5px;height:13.5px;border:1px solid #3a7fae;border-left-color:#2c6a93;border-top-color:#2f6f99;border-radius:2.5px;background:linear-gradient(to right,#5fd37e 0 9.6px,#fff 9.6px)"></div>
<div class="t" style="left:1132.72px;width:22px;text-align:center;top:168.97px;font-size:8.3px;color:#d9f5df;font-weight:400;letter-spacing:-0.25px;">2</div>
<div class="t" style="left:1154.72px;width:22px;text-align:center;top:168.97px;font-size:8.3px;color:#585858;font-weight:400;letter-spacing:-0.25px;">3</div>
<div class="t" style="left:1176.72px;width:22px;text-align:center;top:168.97px;font-size:8.3px;color:#585858;font-weight:400;letter-spacing:-0.25px;">4</div>
<div class="t" style="left:1198.72px;width:22px;text-align:center;top:168.97px;font-size:8.3px;color:#585858;font-weight:400;letter-spacing:-0.25px;">5</div>
<div class="t" style="left:1066.72px;width:22px;text-align:center;top:191.60px;font-size:8.3px;color:#585858;font-weight:400;letter-spacing:-0.25px;">6</div>
<div class="t" style="left:1088.72px;width:22px;text-align:center;top:191.60px;font-size:8.3px;color:#585858;font-weight:400;letter-spacing:-0.25px;">7</div>
<div class="t" style="left:1110.72px;width:22px;text-align:center;top:191.60px;font-size:8.3px;color:#585858;font-weight:400;letter-spacing:-0.25px;">8</div>
<div class="t" style="left:1132.72px;width:22px;text-align:center;top:191.60px;font-size:8.3px;color:#585858;font-weight:400;letter-spacing:-0.25px;">9</div>
<div class="t" style="left:1154.72px;width:22px;text-align:center;top:191.60px;font-size:8.3px;color:#585858;font-weight:400;letter-spacing:-0.25px;">10</div>
<div class="t" style="left:1176.72px;width:22px;text-align:center;top:191.60px;font-size:8.3px;color:#585858;font-weight:400;letter-spacing:-0.25px;">11</div>
<div class="t" style="left:1198.72px;width:22px;text-align:center;top:191.60px;font-size:8.3px;color:#585858;font-weight:400;letter-spacing:-0.25px;">12</div>
<div class="t" style="left:1066.72px;width:22px;text-align:center;top:214.23px;font-size:8.3px;color:#585858;font-weight:400;letter-spacing:-0.25px;">13</div>
<div class="t" style="left:1088.72px;width:22px;text-align:center;top:214.23px;font-size:8.3px;color:#585858;font-weight:400;letter-spacing:-0.25px;">14</div>
<div class="t" style="left:1110.72px;width:22px;text-align:center;top:214.23px;font-size:8.3px;color:#585858;font-weight:400;letter-spacing:-0.25px;">15</div>
<div class="t" style="left:1132.72px;width:22px;text-align:center;top:214.23px;font-size:8.3px;color:#585858;font-weight:400;letter-spacing:-0.25px;">16</div>
<div class="t" style="left:1154.72px;width:22px;text-align:center;top:214.23px;font-size:8.3px;color:#585858;font-weight:400;letter-spacing:-0.25px;">17</div>
<div class="t" style="left:1176.72px;width:22px;text-align:center;top:214.23px;font-size:8.3px;color:#585858;font-weight:400;letter-spacing:-0.25px;">18</div>
<div class="t" style="left:1198.72px;width:22px;text-align:center;top:214.23px;font-size:8.3px;color:#585858;font-weight:400;letter-spacing:-0.25px;">19</div>
<div class="t" style="left:1066.72px;width:22px;text-align:center;top:236.86px;font-size:8.3px;color:#585858;font-weight:400;letter-spacing:-0.25px;">20</div>
<div class="t" style="left:1088.72px;width:22px;text-align:center;top:236.86px;font-size:8.3px;color:#585858;font-weight:400;letter-spacing:-0.25px;">21</div>
<div class="t" style="left:1110.72px;width:22px;text-align:center;top:236.86px;font-size:8.3px;color:#585858;font-weight:400;letter-spacing:-0.25px;">22</div>
<div class="t" style="left:1132.72px;width:22px;text-align:center;top:236.86px;font-size:8.3px;color:#585858;font-weight:400;letter-spacing:-0.25px;">23</div>
<div class="t" style="left:1154.72px;width:22px;text-align:center;top:236.86px;font-size:8.3px;color:#585858;font-weight:400;letter-spacing:-0.25px;">24</div>
<div class="t" style="left:1176.72px;width:22px;text-align:center;top:236.86px;font-size:8.3px;color:#585858;font-weight:400;letter-spacing:-0.25px;">25</div>
<div class="t" style="left:1198.72px;width:22px;text-align:center;top:236.86px;font-size:8.3px;color:#585858;font-weight:400;letter-spacing:-0.25px;">26</div>
<div class="t" style="left:1066.72px;width:22px;text-align:center;top:259.49px;font-size:8.3px;color:#585858;font-weight:400;letter-spacing:-0.25px;">27</div>
<div class="t" style="left:1088.72px;width:22px;text-align:center;top:259.49px;font-size:8.3px;color:#585858;font-weight:400;letter-spacing:-0.25px;">28</div>
<div class="t" style="left:1110.72px;width:22px;text-align:center;top:259.49px;font-size:8.3px;color:#585858;font-weight:400;letter-spacing:-0.25px;">29</div>
<div class="t" style="left:1132.72px;width:22px;text-align:center;top:259.49px;font-size:8.3px;color:#585858;font-weight:400;letter-spacing:-0.25px;">30</div>
<div class="r" style="left:463.5px;top:293.75px;width:5px;height:5px;background:#2fbf5f;border-radius:50%"></div>
<div class="t" style="left:475px;top:293.30px;font-size:9.1px;color:#444;font-weight:400;">Continuous</div>
<div class="r" style="left:545.9px;top:293.75px;width:5px;height:5px;background:#2a9ee8;border-radius:50%"></div>
<div class="t" style="left:557.8px;top:293.30px;font-size:9.1px;color:#444;font-weight:400;">Daily</div>
<div class="r" style="left:602.2px;top:293.75px;width:5px;height:5px;background:#8c6fd8;border-radius:50%"></div>
<div class="t" style="left:614px;top:293.30px;font-size:9.1px;color:#444;font-weight:400;">Weekly</div>
<div class="r" style="left:668.0px;top:293.75px;width:5px;height:5px;background:#2cc7c0;border-radius:50%"></div>
<div class="t" style="left:680px;top:293.30px;font-size:9.1px;color:#444;font-weight:400;">Monthly</div>
<div class="r" style="left:737.0px;top:293.75px;width:5px;height:5px;background:#e0559f;border-radius:50%"></div>
<div class="t" style="left:748.75px;top:293.30px;font-size:9.1px;color:#444;font-weight:400;">Quarterly</div>
<div class="r" style="left:810.75px;top:293.75px;width:5px;height:5px;background:#f08a3c;border-radius:50%"></div>
<div class="t" style="left:822.5px;top:293.30px;font-size:9.1px;color:#444;font-weight:400;">System Snapshot</div>
<svg class="r" style="left:920px;top:292px" width="9" height="8" viewBox="0 0 9 8"><path d="M4.5 0.5 L8.5 7 L0.5 7Z" fill="#f3b81c"/></svg>
<div class="t" style="left:937.5px;top:293.38px;font-size:9.0px;color:#444;font-weight:400;">Manual</div>
<div class="r" style="left:186px;top:310px;width:1059px;height:1px;background:#e6e8eb"></div>
<svg class="r" style="left:192.65px;top:320.35px" width="9.5" height="9.5" viewBox="0 0 9.5 9.5"><circle cx="4.75" cy="4.75" r="4.75" fill="#2a9ee8"/><path d="M5.5 3.1 L4.0 4.8 L5.5 6.3" fill="none" stroke="#c4ecff" stroke-width="1.3"/></svg>
<div class="t" style="left:209px;top:320.86px;font-size:9.5px;color:#555;font-weight:400;-webkit-text-stroke:0.35px #555;">September 02, 2020</div>
<svg class="r" style="left:302.75px;top:320.35px" width="9.5" height="9.5" viewBox="0 0 9.5 9.5"><circle cx="4.75" cy="4.75" r="4.75" fill="#2a9ee8"/><path d="M4.0 3.1 L5.5 4.8 L4.0 6.3" fill="none" stroke="#c4ecff" stroke-width="1.3"/></svg>
<div class="r" style="left:1142px;top:317px;width:13px;height:6px;border:1px solid #9a9fa5;border-radius:4px"></div>
<div class="r" style="left:1142px;top:317px;width:6px;height:6px;border:1px solid #555;border-radius:50%;background:#fff"></div>
<div class="t" style="left:1160px;top:317.16px;font-size:9.14px;color:#444;font-weight:400;">Show Log Catchup</div>
<div class="r" style="left:195px;top:437px;width:438px;height:37px;background:#e6f6e9"></div>
<div class="r" style="left:195px;top:436px;width:1042px;height:2px;background:#4ab577"></div>
<div class="r" style="left:195px;top:473.5px;width:1041px;height:1px;background:#dde0e3"></div>
<div class="r" style="left:242px;top:424px;width:1px;height:50px;background:#dadde1"></div>
<div class="r" style="left:235.5px;top:411px;width:12px;height:12px;border:1px solid #e3e5e8;border-radius:50%;background:#fff"></div>
<div class="r" style="left:239.5px;top:415px;width:6px;height:6px;background:#f08a3c;border-radius:50%"></div>
<div class="r" style="left:661px;top:383px;width:1px;height:91px;background:#d5d8dc"></div>
<div class="r" style="left:635px;top:369px;width:52px;height:12px;border:1px solid #dcdfe2;border-radius:8px;background:#fff"></div>
<div class="t" style="left:631.00px;width:60px;text-align:center;top:373.06px;font-size:7.84px;color:#606060;font-weight:400;">Current Time</div>
<div class="t" style="left:218.48px;width:40px;text-align:center;top:480.20px;font-size:7.8px;color:#707070;font-weight:400;">1:00</div>
<div class="t" style="left:261.86px;width:40px;text-align:center;top:480.20px;font-size:7.8px;color:#707070;font-weight:400;">2:00</div>
<div class="t" style="left:305.24px;width:40px;text-align:center;top:480.20px;font-size:7.8px;color:#707070;font-weight:400;">3:00</div>
<div class="t" style="left:348.62px;width:40px;text-align:center;top:480.20px;font-size:7.8px;color:#707070;font-weight:400;">4:00</div>
<div class="t" style="left:392.00px;width:40px;text-align:center;top:480.20px;font-size:7.8px;color:#707070;font-weight:400;">5:00</div>
<div class="t" style="left:435.38px;width:40px;text-align:center;top:480.20px;font-size:7.8px;color:#707070;font-weight:400;">6:00</div>
<div class="t" style="left:478.76px;width:40px;text-align:center;top:480.20px;font-size:7.8px;color:#707070;font-weight:400;">7:00</div>
<div class="t" style="left:522.14px;width:40px;text-align:center;top:480.20px;font-size:7.8px;color:#707070;font-weight:400;">8:00</div>
<div class="t" style="left:565.52px;width:40px;text-align:center;top:480.20px;font-size:7.8px;color:#707070;font-weight:400;">9:00</div>
<div class="t" style="left:608.90px;width:40px;text-align:center;top:480.20px;font-size:7.8px;color:#707070;font-weight:400;">10:00</div>
<div class="t" style="left:652.28px;width:40px;text-align:center;top:480.20px;font-size:7.8px;color:#707070;font-weight:400;">11:00</div>
<div class="t" style="left:695.66px;width:40px;text-align:center;top:480.20px;font-size:7.8px;color:#707070;font-weight:400;">12:00</div>
<div class="t" style="left:739.04px;width:40px;text-align:center;top:480.20px;font-size:7.8px;color:#707070;font-weight:400;">13:00</div>
<div class="t" style="left:782.42px;width:40px;text-align:center;top:480.20px;font-size:7.8px;color:#707070;font-weight:400;">14:00</div>
<div class="t" style="left:825.80px;width:40px;text-align:center;top:480.20px;font-size:7.8px;color:#707070;font-weight:400;">15:00</div>
<div class="t" style="left:869.18px;width:40px;text-align:center;top:480.20px;font-size:7.8px;color:#707070;font-weight:400;">16:00</div>
<div class="t" style="left:912.56px;width:40px;text-align:center;top:480.20px;font-size:7.8px;color:#707070;font-weight:400;">17:00</div>
<div class="t" style="left:955.94px;width:40px;text-align:center;top:480.20px;font-size:7.8px;color:#707070;font-weight:400;">18:00</div>
<div class="t" style="left:999.32px;width:40px;text-align:center;top:480.20px;font-size:7.8px;color:#707070;font-weight:400;">19:00</div>
<div class="t" style="left:1042.70px;width:40px;text-align:center;top:480.20px;font-size:7.8px;color:#707070;font-weight:400;">20:00</div>
<div class="t" style="left:1086.08px;width:40px;text-align:center;top:480.20px;font-size:7.8px;color:#707070;font-weight:400;">21:00</div>
<div class="t" style="left:1129.46px;width:40px;text-align:center;top:480.20px;font-size:7.8px;color:#707070;font-weight:400;">22:00</div>
<div class="t" style="left:1172.84px;width:40px;text-align:center;top:480.20px;font-size:7.8px;color:#707070;font-weight:400;">23:00</div>
</div></body></html>
